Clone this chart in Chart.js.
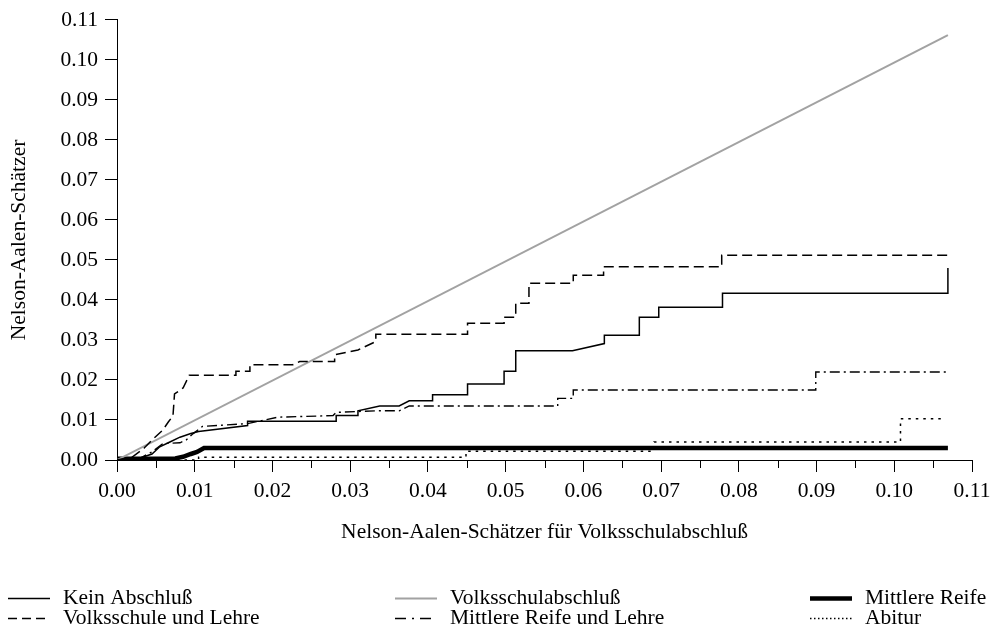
<!DOCTYPE html>
<html>
<head>
<meta charset="utf-8">
<title>Nelson-Aalen-Schätzer</title>
<script src="https://cdn.jsdelivr.net/npm/chart.js"></script>
<style>
  html, body { margin: 0; padding: 0; background: #fff; }
  canvas { display: block; }
</style>
</head>
<body>
<canvas id="chart" width="1001" height="632"></canvas>
<script>
// Achsen-Ticks
const majorTicks = [0, 0.01, 0.02, 0.03, 0.04, 0.05, 0.06, 0.07, 0.08, 0.09, 0.10, 0.11];
const minorTicks = [0.005, 0.015, 0.025, 0.035, 0.045, 0.055, 0.065, 0.075, 0.085, 0.095, 0.105];

const seriesLabels = ['Kein Abschluß', 'Volksschule und Lehre', 'Volksschulabschluß',
  'Mittlere Reife und Lehre', 'Mittlere Reife', 'Abitur'];

// Kein Abschluß
const keinX = [0, 0.003, 0.0045, 0.0055, 0.0068, 0.0081, 0.0095, 0.0105, 0.0168, 0.0168,
  0.0282, 0.0282, 0.031, 0.031, 0.0338, 0.0363, 0.0376, 0.0406, 0.0406, 0.0451,
  0.0451, 0.0498, 0.0498, 0.0513, 0.0513, 0.0586, 0.0627, 0.0627, 0.0672, 0.0672,
  0.0697, 0.0697, 0.0779, 0.0779, 0.1069, 0.1069];
const keinY = [0, 0.0005, 0.0015, 0.0033, 0.0045, 0.0057, 0.0066, 0.0071, 0.0086, 0.0097,
  0.0097, 0.0111, 0.0111, 0.0123, 0.0135, 0.0135, 0.0148, 0.0148, 0.0163, 0.0163,
  0.019, 0.019, 0.0222, 0.0222, 0.0273, 0.0273, 0.0291, 0.0312, 0.0312, 0.0357,
  0.0357, 0.0382, 0.0382, 0.0417, 0.0417, 0.048];

// Volksschule und Lehre
const vlX = [0, 0.002, 0.0035, 0.0045, 0.0059, 0.0066, 0.0072, 0.0074, 0.0085, 0.0093,
  0.0153, 0.0153, 0.0171, 0.0171, 0.0226, 0.0235, 0.028, 0.028, 0.031, 0.0333,
  0.0333, 0.0451, 0.0451, 0.0498, 0.0498, 0.0513, 0.0513, 0.053, 0.053, 0.0587,
  0.0587, 0.0626, 0.0626, 0.0778, 0.0778, 0.1069];
const vlY = [0, 0.0008, 0.003, 0.005, 0.0075, 0.0095, 0.011, 0.0165, 0.018, 0.0212,
  0.0212, 0.0222, 0.0222, 0.0238, 0.0238, 0.0246, 0.0246, 0.0263, 0.0275, 0.0296,
  0.0314, 0.0314, 0.0342, 0.0342, 0.0357, 0.0357, 0.0392, 0.0392, 0.0442, 0.0442,
  0.0462, 0.0462, 0.0483, 0.0483, 0.0512, 0.0512];

// Volksschulabschluß (Referenz, x gegen x)
const vsX = [0, 0.1069];
const vsY = [0, 0.1062];

// Mittlere Reife und Lehre
const mrlX = [0, 0.003, 0.0045, 0.0059, 0.0081, 0.0089, 0.0098, 0.011, 0.0168, 0.0207,
  0.0278, 0.0282, 0.0333, 0.0363, 0.0376, 0.0567, 0.0567, 0.0587, 0.0587, 0.0899,
  0.0899, 0.1069];
const mrlY = [0, 0.0005, 0.002, 0.0041, 0.0043, 0.005, 0.0066, 0.0084, 0.0091, 0.0107,
  0.0111, 0.0119, 0.0123, 0.0123, 0.0135, 0.0135, 0.0154, 0.0154, 0.0175, 0.0175,
  0.022, 0.022];

// Mittlere Reife
const mrX = [0, 0.0075, 0.0085, 0.0095, 0.0103, 0.0112, 0.1069];
const mrY = [0.0003, 0.0004, 0.0008, 0.0015, 0.002, 0.003, 0.003];

// Abitur
const abX = [0, 0.0105, 0.0105, 0.0449, 0.0449, 0.0691, 0.0691, 0.1008, 0.1008, 0.1066];
const abY = [0, 0, 0.0007, 0.0007, 0.0022, 0.0022, 0.0045, 0.0045, 0.0103, 0.0103];

const toPoints = (xs, ys) => xs.map((x, i) => ({ x, y: ys[i] }));

const FONT = '"Liberation Serif", "Times New Roman", serif';
const FONT_SIZE = 21.5;
Chart.defaults.font.family = FONT;
Chart.defaults.font.size = FONT_SIZE;
Chart.defaults.color = '#000';

function makeSet(i, xs, ys, style) {
  return Object.assign({
    label: seriesLabels[i],
    data: toPoints(xs, ys),
    borderColor: '#000',
    borderWidth: 1.5,
    borderDash: [],
    pointRadius: 0,
    tension: 0,
    fill: false
  }, style);
}

const datasets = [
  makeSet(0, keinX, keinY, {}),
  makeSet(1, vlX, vlY, { borderDash: [10, 5] }),
  makeSet(2, vsX, vsY, { borderColor: '#a2a2a2', borderWidth: 2 }),
  makeSet(3, mrlX, mrlY, { borderDash: [10, 4, 2, 4], borderWidth: 1.4 }),
  makeSet(4, mrX, mrY, { borderWidth: 4.5 }),
  makeSet(5, abX, abY, { borderDash: [2.5, 5], borderWidth: 1.5 })
];

// Legende: drei Spalten, zwei Zeilen
const legendCols = [8, 395, 810];
const legendRows = [598, 618];
const legendOrder = [[0, 0, 0], [1, 0, 1], [2, 1, 0], [3, 1, 1], [4, 2, 0], [5, 2, 1]];
// eigene Strichmuster fuer die kurzen Legendenmuster
const legendDash = [[], [9, 5], [], [11, 6, 2, 6], [], [1.5, 2.5]];

const extrasPlugin = {
  id: 'extras',
  afterDraw(chart) {
    const ctx = chart.ctx;
    const xs = chart.scales.x;
    const bottom = chart.chartArea.bottom;
    ctx.save();
    // kurze Zwischenticks
    ctx.strokeStyle = '#000';
    ctx.lineWidth = 1;
    minorTicks.forEach(v => {
      const px = Math.round(xs.getPixelForValue(v)) + 0.5;
      ctx.beginPath();
      ctx.moveTo(px, bottom);
      ctx.lineTo(px, bottom + 8);
      ctx.stroke();
    });
    // Legende
    ctx.font = FONT_SIZE + 'px ' + FONT;
    ctx.textBaseline = 'middle';
    ctx.textAlign = 'left';
    legendOrder.forEach(([di, col, row]) => {
      const ds = chart.data.datasets[di];
      const x0 = legendCols[col];
      const y = legendRows[row] + 0.5;
      ctx.strokeStyle = ds.borderColor;
      ctx.lineWidth = ds.borderWidth;
      ctx.setLineDash(legendDash[di]);
      ctx.beginPath();
      ctx.moveTo(x0, y);
      ctx.lineTo(x0 + 42, y);
      ctx.stroke();
      ctx.setLineDash([]);
      ctx.fillStyle = '#000';
      ctx.fillText(ds.label, x0 + 55, legendRows[row]);
    });
    ctx.restore();
  }
};

new Chart(document.getElementById('chart'), {
  type: 'line',
  data: { datasets },
  options: {
    responsive: false,
    animation: false,
    layout: { padding: { left: 6, right: 29, top: 15, bottom: 87 } },
    plugins: { legend: { display: false }, tooltip: { enabled: false } },
    scales: {
      x: {
        type: 'linear',
        min: 0,
        max: 0.11,
        afterBuildTicks: s => { s.ticks = majorTicks.map(v => ({ value: v })); },
        afterFit: s => { s.height = 85; },
        grid: { drawOnChartArea: false, drawTicks: true, tickLength: 12, color: '#000' },
        border: { display: true, color: '#000', width: 1 },
        ticks: { padding: 6, maxRotation: 0, autoSkip: false, callback: v => v.toFixed(2) },
        title: { display: true, text: 'Nelson-Aalen-Schätzer für Volksschulabschluß', padding: 0 }
      },
      y: {
        type: 'linear',
        min: 0,
        max: 0.11,
        afterBuildTicks: s => { s.ticks = majorTicks.map(v => ({ value: v })); },
        afterFit: s => { s.width = 111; },
        grid: { drawOnChartArea: false, drawTicks: true, tickLength: 12, color: '#000' },
        border: { display: true, color: '#000', width: 1 },
        ticks: { padding: 7, autoSkip: false, callback: v => v.toFixed(2) },
        title: { display: true, text: 'Nelson-Aalen-Schätzer', padding: 0 }
      }
    }
  },
  plugins: [extrasPlugin]
});
</script>
</body>
</html>
